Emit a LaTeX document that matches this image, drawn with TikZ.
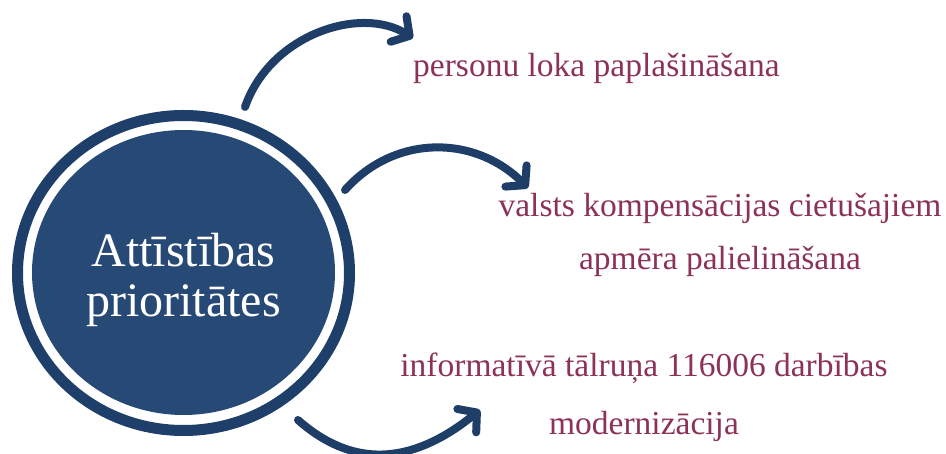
\documentclass[tikz,border=0pt]{standalone}
\usepackage{fontspec}
\setmainfont{Liberation Serif}
\usetikzlibrary{arrows.meta,shapes.geometric}
\definecolor{ringc}{RGB}{31,63,107}
\definecolor{discc}{RGB}{38,73,118}
\definecolor{arrowc}{RGB}{30,62,104}
\definecolor{txtc}{RGB}{140,50,88}
\begin{document}
\begin{tikzpicture}[x=1pt,y=-1pt,
  ringst/.style={ellipse,draw=ringc,line width=11pt,minimum width=332pt,minimum height=315pt,inner sep=0pt},
  discst/.style={ellipse,fill=discc,minimum width=303pt,minimum height=285pt,inner sep=0pt},
  arr/.style={draw=arrowc,line width=8pt,line cap=round,-{Straight Barb[length=13pt,width=30pt,round]}},
  lbl/.style={text=txtc,font=\fontsize{33.5}{53}\selectfont,align=center,inner sep=0pt},
  ctr/.style={text=white,font=\fontsize{48}{50}\selectfont,align=center,inner sep=0pt}]
\useasboundingbox (0,0) rectangle (946,454);
\node[ringst] (ring) at (183.5,273) {};
\node[discst] (disc) at (183.5,272.5) {};
\node[ctr,anchor=base] (ctext) at (183.5,317) {Attīstības\\prioritātes};
\node[lbl,anchor=base west] (t1) at (413,77) {personu loka paplašināšana};
\node[lbl,anchor=base] (t2) at (720,270) {valsts kompensācijas cietušajiem\\apmēra palielināšana};
\node[lbl,anchor=base,font=\fontsize{33.5}{58}\selectfont] (t3) at (644,435) {informatīvā tālruņa 116006 darbības\\modernizācija};
\coordinate (s1) at (245,107);
\coordinate (e1) at (413,38);
\coordinate (s2) at (345,190);
\coordinate (e2) at (528,188);
\coordinate (s3) at (298,420);
\coordinate (e3) at (480,410);
\draw[arr] (s1) .. controls (270,35) and (360,5) .. (e1);
\draw[arr] (s2) .. controls (395,134) and (475,135) .. (e2);
\draw[arr] (s3) .. controls (358,473) and (418,460) .. (e3);
\end{tikzpicture}
\end{document}
